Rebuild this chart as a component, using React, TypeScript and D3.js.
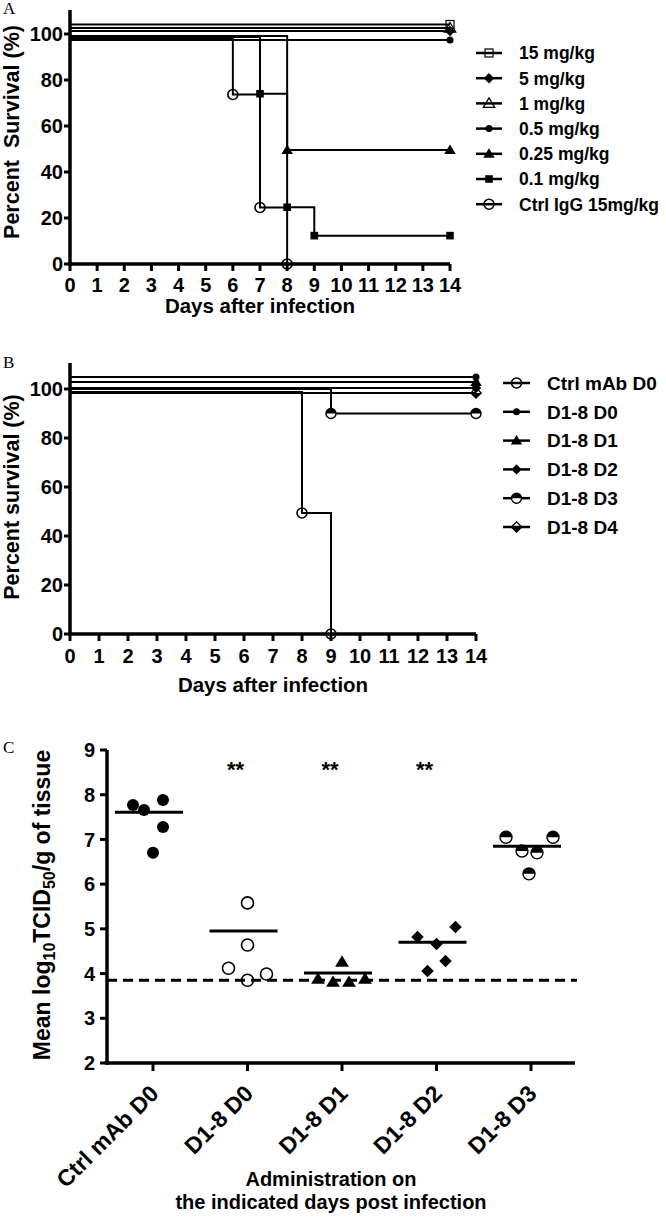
import React, { useEffect } from 'react';
import * as d3 from 'd3';

// ---------- Data ----------
const dayTicks = d3.range(0, 15);
const survTicks = [0, 20, 40, 60, 80, 100];

// Panel A
const namesA = ['15 mg/kg', '5 mg/kg', '1 mg/kg', '0.5 mg/kg', '0.25 mg/kg', '0.1 mg/kg', 'Ctrl IgG 15mg/kg'];
const daysA = [[0], [0], [0], [0], [0, 8], [0, 7, 8, 9], [0, 6, 7, 8]];
const survA = [[100], [100], [100], [100], [100, 50], [100, 75, 25, 12.5], [100, 75, 25, 0]];
const markersA = ['squareOpen', 'diamond', 'triangleOpen', 'dot', 'triangle', 'square', 'circleOpen'];
const offsetA = [-9.5, -3, -6, 6, 2, 3, 4];

// Panel B
const namesB = ['Ctrl mAb D0', 'D1-8 D0', 'D1-8 D1', 'D1-8 D2', 'D1-8 D3', 'D1-8 D4'];
const daysB = [[0, 8, 9], [0], [0], [0], [0, 9], [0]];
const survB = [[100, 50, 0], [100], [100], [100], [100, 90], [100]];
const markersB = ['circleOpen', 'dot', 'triangle', 'diamond', 'halfCircle', 'halfDiamond'];
const offsetB = [3, -12, -7, -1, 0, 4];

// Panel C
const groupsC = ['Ctrl mAb D0', 'D1-8 D0', 'D1-8 D1', 'D1-8 D2', 'D1-8 D3'];
const valuesC = [
  [7.77, 7.66, 7.88, 7.28, 6.70],
  [4.12, 5.58, 4.64, 3.85, 3.99],
  [4.26, 3.88, 3.81, 3.81, 3.88],
  [4.82, 4.66, 5.04, 4.28, 4.06],
  [7.05, 7.05, 6.74, 6.70, 6.23],
];
const jitterC = [
  [-20, -9, 10, 10, 0],
  [-19, 0, 0, 0, 19],
  [0, -24, -9, 7, 23],
  [-19, 0, 19, 9, -9],
  [-25, 22, -9, 6, -2],
];
const meansC = [7.61, 4.95, 4.01, 4.70, 6.85];
const starsC = ['', '**', '**', '**', ''];
const markersC = ['circle', 'circleOpen', 'triangle', 'diamond', 'halfCircle'];
const detectionLimitC = 3.85;
const yTicksC = [2, 3, 4, 5, 6, 7, 8, 9];

const FONT = '"Liberation Sans", Arial, Helvetica, sans-serif';

function Marker({ type, x, y, s = 1 }: { type: string; x: number; y: number; s?: number }) {
  const k = '#000';
  switch (type) {
    case 'circleOpen':
      return <circle cx={x} cy={y} r={5 * s} fill="none" stroke={k} strokeWidth={1.6} />;
    case 'circle':
      return <circle cx={x} cy={y} r={5 * s} fill={k} />;
    case 'dot':
      return <circle cx={x} cy={y} r={3.5 * s} fill={k} />;
    case 'square': {
      const h = 3.8 * s;
      return <rect x={x - h} y={y - h} width={2 * h} height={2 * h} fill={k} />;
    }
    case 'squareOpen': {
      const h = 4 * s;
      return <rect x={x - h} y={y - h} width={2 * h} height={2 * h} fill="none" stroke={k} strokeWidth={1.2} />;
    }
    case 'diamond': {
      const h = 5.2 * s;
      return <path d={`M${x},${y - h}L${x + h},${y}L${x},${y + h}L${x - h},${y}Z`} fill={k} />;
    }
    case 'halfDiamond': {
      const h = 5.2 * s;
      return (
        <g>
          <path d={`M${x - h},${y}L${x},${y + h}L${x + h},${y}Z`} fill={k} />
          <path d={`M${x},${y - h}L${x + h},${y}L${x},${y + h}L${x - h},${y}Z`} fill="none" stroke={k} strokeWidth={1.3} />
        </g>
      );
    }
    case 'triangle': {
      const h = 5 * s;
      return <path d={`M${x},${y - h * 1.1}L${x + h * 1.15},${y + h * 0.8}L${x - h * 1.15},${y + h * 0.8}Z`} fill={k} />;
    }
    case 'triangleOpen': {
      const h = 5 * s;
      return (
        <path
          d={`M${x},${y - h * 1.1}L${x + h * 1.15},${y + h * 0.8}L${x - h * 1.15},${y + h * 0.8}Z`}
          fill="none"
          stroke={k}
          strokeWidth={1.3}
        />
      );
    }
    case 'halfCircle': {
      const r = 5 * s;
      return (
        <g>
          <circle cx={x} cy={y} r={r} fill="#fff" stroke={k} strokeWidth={1.4} />
          <path d={`M${x - r},${y}A${r},${r} 0 0 1 ${x + r},${y}Z`} fill={k} />
        </g>
      );
    }
    default:
      return null;
  }
}

type SurvProps = {
  names: string[];
  days: number[][];
  surv: number[][];
  markers: string[];
  offsets: number[];
  x0: number;
  x1: number;
  yTop: number;
  y0: number;
  y100: number;
  tickLabelBase: number;
  titleBase: number;
  yTitle: string;
  yTitleX: number;
  yTitleY: number;
  letter: string;
  letterY: number;
  legend: { lx0: number; lx1: number; tx: number; top: number; step: number; size: number };
};

function SurvivalPanel(p: SurvProps) {
  const x = d3.scaleLinear().domain([0, 14]).range([p.x0, p.x1]);
  const y = d3.scaleLinear().domain([0, 100]).range([p.y0, p.y100]);
  const line = d3.line<[number, number]>().x((d) => d[0]).y((d) => d[1]).curve(d3.curveStepAfter);
  return (
    <g>
      <text x={3} y={p.letterY} fontFamily='"Liberation Serif", "DejaVu Serif", serif' fontSize={17}>
        {p.letter}
      </text>
      {/* curves */}
      {p.names.map((n, i) => {
        const ds = p.days[i];
        const ss = p.surv[i];
        const off = p.offsets[i];
        const pts: [number, number][] = ds.map((d, j) => [x(d), y(ss[j]) + (off * ss[j]) / 100]);
        const last = ss[ss.length - 1];
        if (last > 0) pts.push([x(14), y(last) + (off * last) / 100]);
        const mk: [number, number][] = pts.slice(1);
        return (
          <g key={n}>
            <path d={line(pts) || ''} fill="none" stroke="#000" strokeWidth={2} />
            {mk.map((m, j) => (
              <Marker key={j} type={p.markers[i]} x={m[0]} y={m[1]} />
            ))}
          </g>
        );
      })}
      {/* axes */}
      <line x1={p.x0} x2={p.x0} y1={p.y0 + 1.75} y2={p.yTop} stroke="#000" strokeWidth={3.5} />
      <line x1={p.x0 - 1.75} x2={p.x1} y1={p.y0} y2={p.y0} stroke="#000" strokeWidth={3.5} />
      {survTicks.map((t) => (
        <g key={t}>
          <line x1={p.x0 - 6} x2={p.x0} y1={y(t)} y2={y(t)} stroke="#000" strokeWidth={3} />
          <text
            x={p.x0 - 7}
            y={y(t)}
            dy="0.36em"
            textAnchor="end"
            fontFamily={FONT}
            fontWeight="bold"
            fontSize={20}
          >
            {t}
          </text>
        </g>
      ))}
      {dayTicks.map((t) => (
        <g key={t}>
          <line x1={x(t)} x2={x(t)} y1={p.y0} y2={p.y0 + 7} stroke="#000" strokeWidth={3} />
          <text x={x(t)} y={p.tickLabelBase} textAnchor="middle" fontFamily={FONT} fontWeight="bold" fontSize={20}>
            {t}
          </text>
        </g>
      ))}
      <text
        x={(p.x0 + p.x1) / 2}
        y={p.titleBase}
        textAnchor="middle"
        fontFamily={FONT}
        fontWeight="bold"
        fontSize={20.5}
      >
        Days after infection
      </text>
      <text
        transform={`translate(${p.yTitleX},${p.yTitleY}) rotate(-90)`}
        textAnchor="middle"
        fontFamily={FONT}
        fontWeight="bold"
        fontSize={21.5}
        style={{ whiteSpace: 'pre' }}
      >
        {p.yTitle}
      </text>
      {/* legend */}
      {p.names.map((n, i) => {
        const ly = p.legend.top + p.legend.step * i;
        return (
          <g key={n}>
            <line x1={p.legend.lx0} x2={p.legend.lx1} y1={ly} y2={ly} stroke="#000" strokeWidth={2.5} />
            <Marker type={p.markers[i]} x={(p.legend.lx0 + p.legend.lx1) / 2} y={ly} />
            <text
              x={p.legend.tx}
              y={ly}
              dy="0.36em"
              fontFamily={FONT}
              fontWeight="bold"
              fontSize={p.legend.size}
            >
              {n}
            </text>
          </g>
        );
      })}
    </g>
  );
}

function PanelC() {
  const x = d3.scalePoint<string>().domain(groupsC).range([153, 531]);
  const y = d3.scaleLinear().domain([2, 9]).range([1063, 750]);
  const xAxisEnd = 575;
  return (
    <g>
      <text x={3} y={753} fontFamily='"Liberation Serif", "DejaVu Serif", serif' fontSize={17}>
        C
      </text>
      {/* detection limit */}
      <line
        x1={107}
        x2={577}
        y1={y(detectionLimitC)}
        y2={y(detectionLimitC)}
        stroke="#000"
        strokeWidth={3}
        strokeDasharray="10 6"
      />
      {groupsC.map((g, i) => {
        const cx = x(g) as number;
        return (
          <g key={g}>
            {valuesC[i].map((v, j) => (
              <Marker key={j} type={markersC[i]} x={cx + jitterC[i][j]} y={y(v)} s={1.2} />
            ))}
            <line x1={cx - 38} x2={cx + 30} y1={y(meansC[i])} y2={y(meansC[i])} stroke="#000" strokeWidth={3} />
            {starsC[i] && (
              <text x={cx - 12} y={777} textAnchor="middle" fontFamily={FONT} fontWeight="bold" fontSize={22}>
                {starsC[i]}
              </text>
            )}
          </g>
        );
      })}
      {/* axes */}
      <line x1={107} x2={107} y1={y(2) + 1.75} y2={y(9)} stroke="#000" strokeWidth={3.5} />
      <line x1={105.25} x2={xAxisEnd} y1={y(2)} y2={y(2)} stroke="#000" strokeWidth={3.5} />
      {yTicksC.map((t) => (
        <g key={t}>
          <line x1={100} x2={107} y1={y(t)} y2={y(t)} stroke="#000" strokeWidth={3} />
          <text x={95} y={y(t)} dy="0.36em" textAnchor="end" fontFamily={FONT} fontWeight="bold" fontSize={20}>
            {t}
          </text>
        </g>
      ))}
      {groupsC.map((g) => {
        const cx = x(g) as number;
        return (
          <g key={g}>
            <line x1={cx} x2={cx} y1={y(2)} y2={y(2) + 8} stroke="#000" strokeWidth={3} />
            <text
              transform={`translate(${cx + 7},${1095}) rotate(-45)`}
              textAnchor="end"
              fontFamily={FONT}
              fontWeight="bold"
              fontSize={23}
            >
              {g}
            </text>
          </g>
        );
      })}
      <text x={331} y={1186} textAnchor="middle" fontFamily={FONT} fontWeight="bold" fontSize={20}>
        Administration on
      </text>
      <text x={331} y={1209} textAnchor="middle" fontFamily={FONT} fontWeight="bold" fontSize={20}>
        the indicated days post infection
      </text>
      <text
        transform={`translate(50,905) rotate(-90)`}
        textAnchor="middle"
        fontFamily={FONT}
        fontWeight="bold"
        fontSize={23}
      >
        Mean log
        <tspan fontSize={16} dy={5}>10</tspan>
        <tspan dy={-5}>TCID</tspan>
        <tspan fontSize={16} dy={5}>50</tspan>
        <tspan dy={-5}>/g of tissue</tspan>
      </text>
    </g>
  );
}

export default function App() {
  useEffect(() => {
    document.body.style.margin = '0';
  }, []);
  return (
    <svg
      width={666}
      height={1221}
      viewBox="0 0 666 1221"
      style={{ display: 'block', position: 'absolute', left: 0, top: 0, background: '#fff' }}
    >
      <rect width={666} height={1221} fill="#fff" />
      <SurvivalPanel
        names={namesA}
        days={daysA}
        surv={survA}
        markers={markersA}
        offsets={offsetA}
        x0={70}
        x1={450}
        yTop={10}
        y0={264}
        y100={34}
        tickLabelBase={292}
        titleBase={313}
        yTitle={'Percent  Survival (%)'}
        yTitleX={19}
        yTitleY={132}
        letter="A"
        letterY={14}
        legend={{ lx0: 476, lx1: 502, tx: 519, top: 53, step: 25.2, size: 17.5 }}
      />
      <SurvivalPanel
        names={namesB}
        days={daysB}
        surv={survB}
        markers={markersB}
        offsets={offsetB}
        x0={70}
        x1={476}
        yTop={363}
        y0={634}
        y100={389}
        tickLabelBase={663}
        titleBase={692}
        yTitle={'Percent survival (%)'}
        yTitleX={19}
        yTitleY={497}
        letter="B"
        letterY={368}
        legend={{ lx0: 503, lx1: 530, tx: 547, top: 383, step: 28.8, size: 19 }}
      />
      <PanelC />
    </svg>
  );
}
